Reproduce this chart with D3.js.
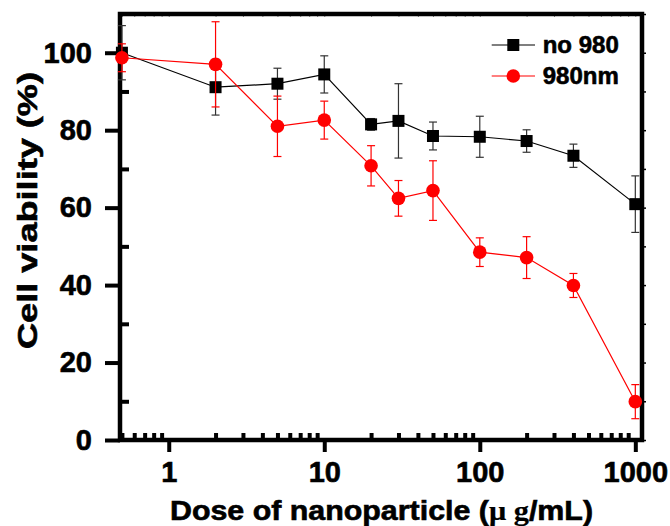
<!DOCTYPE html>
<html>
<head>
<meta charset="utf-8">
<script src="https://cdn.jsdelivr.net/npm/d3@7"></script>
<style>
  body { margin: 0; background: #fff; }
  text { font-family: "Liberation Sans", Arial, sans-serif; font-weight: bold; fill: #000; stroke: #000; stroke-width: 0.6px; }
</style>
</head>
<body>
<div id="vis"></div>
<script>
// dose in ug/mL, viability in %
var doses = [0.5, 2, 5, 10, 20, 30, 50, 100, 200, 400, 1000];
var no980 = [100, 91.1, 92.0, 94.4, 81.5, 82.4, 78.5, 78.3, 77.2, 73.4, 60.9];
var no980Err = [7, 7.2, 4, 4.8, 1.5, 9.6, 3.6, 5.3, 2.9, 3, 7.3];
var nm980 = [98.7, 97.0, 81.0, 82.6, 70.8, 62.4, 64.4, 48.5, 47.1, 39.9, 9.9];
var nm980Err = [3.6, 11, 7.8, 4.9, 5.2, 4.6, 7.7, 3.7, 5.4, 3.1, 4.4];

var seriesNames = ['no 980', '980nm'];
var yTicks = [0, 20, 40, 60, 80, 100];
var xTicks = [1, 10, 100, 1000];

// note: "top" is taken by window.top, so plot edges get their own names
var width = 670,
    height = 526,
    plotLeft = 120,
    plotRight = 642,
    plotTop = 14,
    plotBottom = 440;

var series = [
  { name: seriesNames[0], values: no980, err: no980Err, color: '#000', symbol: 'square' },
  { name: seriesNames[1], values: nm980, err: nm980Err, color: '#ff0000', symbol: 'circle' }
];

var xScale = d3.scaleLog()
  .domain([0.486, 1104])
  .range([plotLeft, plotRight]);

var yScale = d3.scaleLinear()
  .domain([0, 110])
  .range([plotBottom, plotTop]);

var svg = d3.select('#vis')
  .append('svg')
    .attr('width', width)
    .attr('height', height);

// minor log ticks, only those inside the domain
var xMinor = [];
[0.1, 1, 10, 100].forEach(function(base) {
  for (var k = 2; k <= 9; k++) {
    var v = base * k;
    if (v >= xScale.domain()[0] && v <= xScale.domain()[1]) xMinor.push(v);
  }
});

// y axis: major out, minor in
svg.append('g')
  .attr('class', 'thick')
  .attr('transform', 'translate(' + plotLeft + ',0)')
  .call(d3.axisLeft(yScale).tickValues(yTicks).tickSize(15).tickPadding(13));

svg.append('g')
  .attr('class', 'thick')
  .attr('transform', 'translate(' + plotLeft + ',0)')
  .call(d3.axisRight(yScale).tickValues([10, 30, 50, 70, 90]).tickSize(9).tickFormat(''));

// right side small ticks
svg.append('g')
  .attr('transform', 'translate(' + plotRight + ',0)')
  .call(d3.axisRight(yScale).tickValues(d3.range(0, 111, 10)).tickSize(4).tickFormat(''))
  .selectAll('line').style('stroke-width', 1.5);

// x axis
svg.append('g')
  .attr('class', 'thick')
  .attr('transform', 'translate(0,' + plotBottom + ')')
  .call(d3.axisBottom(xScale).tickValues(xTicks).tickSize(12).tickPadding(9).tickFormat(d3.format('d')));

svg.append('g')
  .attr('class', 'thick')
  .attr('transform', 'translate(0,' + plotBottom + ')')
  .call(d3.axisTop(xScale).tickValues(xMinor).tickSize(7).tickFormat(''));

svg.append('g')
  .attr('transform', 'translate(0,' + plotTop + ')')
  .call(d3.axisBottom(xScale).tickValues(xMinor.concat(xTicks)).tickSize(3).tickFormat(''))
  .selectAll('line').style('stroke', '#888').style('stroke-width', 1);

svg.selectAll('.domain').remove();
svg.selectAll('.thick .tick line')
  .style('stroke', '#000')
  .style('stroke-width', 4);

svg.selectAll('.tick text')
  .style('font-size', '29px');

// frame
svg.append('rect')
  .attr('x', plotLeft)
  .attr('y', plotTop)
  .attr('width', plotRight - plotLeft)
  .attr('height', plotBottom - plotTop)
  .style('fill', 'none')
  .style('stroke', '#000')
  .style('stroke-width', 4.5);

var line = d3.line()
  .x(function(d) { return xScale(d[0]); })
  .y(function(d) { return yScale(d[1]); });

series.forEach(function(s) {
  var pts = doses.map(function(d, i) { return [d, s.values[i], s.err[i]]; });
  var g = svg.append('g');

  g.append('path')
    .datum(pts)
    .attr('d', line)
    .attr('fill', 'none')
    .attr('stroke', s.color)
    .attr('stroke-width', 1.2);

  var eb = g.selectAll('.err')
    .data(pts)
    .enter()
    .append('g')
      .attr('stroke', s.color == '#000' ? '#333' : s.color)
      .attr('stroke-width', 1.2);

  eb.append('line')
    .attr('x1', function(d) { return xScale(d[0]); })
    .attr('x2', function(d) { return xScale(d[0]); })
    .attr('y1', function(d) { return yScale(d[1] + d[2]); })
    .attr('y2', function(d) { return yScale(d[1] - d[2]); });

  [1, -1].forEach(function(sign) {
    eb.append('line')
      .attr('x1', function(d) { return xScale(d[0]) - 4; })
      .attr('x2', function(d) { return xScale(d[0]) + 4; })
      .attr('y1', function(d) { return yScale(d[1] + sign * d[2]); })
      .attr('y2', function(d) { return yScale(d[1] + sign * d[2]); });
  });

  if (s.symbol == 'square') {
    g.selectAll('.mk')
      .data(pts)
      .enter()
      .append('rect')
        .attr('x', function(d) { return xScale(d[0]) - 6; })
        .attr('y', function(d) { return yScale(d[1]) - 6; })
        .attr('width', 12)
        .attr('height', 12)
        .attr('fill', s.color);
  } else {
    g.selectAll('.mk')
      .data(pts)
      .enter()
      .append('circle')
        .attr('cx', function(d) { return xScale(d[0]); })
        .attr('cy', function(d) { return yScale(d[1]); })
        .attr('r', 6.8)
        .attr('fill', s.color);
  }
});

// legend
var legend = svg.selectAll('.legend')
  .data(series)
  .enter()
  .append('g')
    .attr('transform', function(d, i) { return 'translate(491.7,' + (45 + i * 31) + ')'; });

legend.append('line')
  .attr('x1', 0)
  .attr('x2', 43.3)
  .attr('stroke', function(d) { return d.color; })
  .attr('stroke-width', 1.2);

legend.each(function(d) {
  var el = d3.select(this);
  if (d.symbol == 'square') {
    el.append('rect').attr('x', 15.6).attr('y', -6).attr('width', 12).attr('height', 12).attr('fill', d.color);
  } else {
    el.append('circle').attr('cx', 21.6).attr('r', 6.8).attr('fill', d.color);
  }
});

legend.append('text')
  .attr('x', 51)
  .attr('y', 7.5)
  .style('font-size', '24px')
  .text(function(d) { return d.name; });

// axis titles
svg.append('text')
  .attr('transform', 'translate(37,210.5) rotate(-90)')
  .attr('text-anchor', 'middle')
  .attr('textLength', 277)
  .attr('lengthAdjust', 'spacingAndGlyphs')
  .style('font-size', '28px')
  .text('Cell viability (%)');

var xTitle = svg.append('text')
  .attr('x', 381.5)
  .attr('y', 520)
  .attr('text-anchor', 'middle')
  .attr('textLength', 423)
  .attr('lengthAdjust', 'spacingAndGlyphs')
  .style('font-size', '27px');
xTitle.append('tspan').text('Dose of nanoparticle (');
xTitle.append('tspan').style('font-family', '"Liberation Serif", serif').style('stroke-width', '0.2px').text('\u03bc g');
xTitle.append('tspan').text('/mL)');
</script>
</body>
</html>
